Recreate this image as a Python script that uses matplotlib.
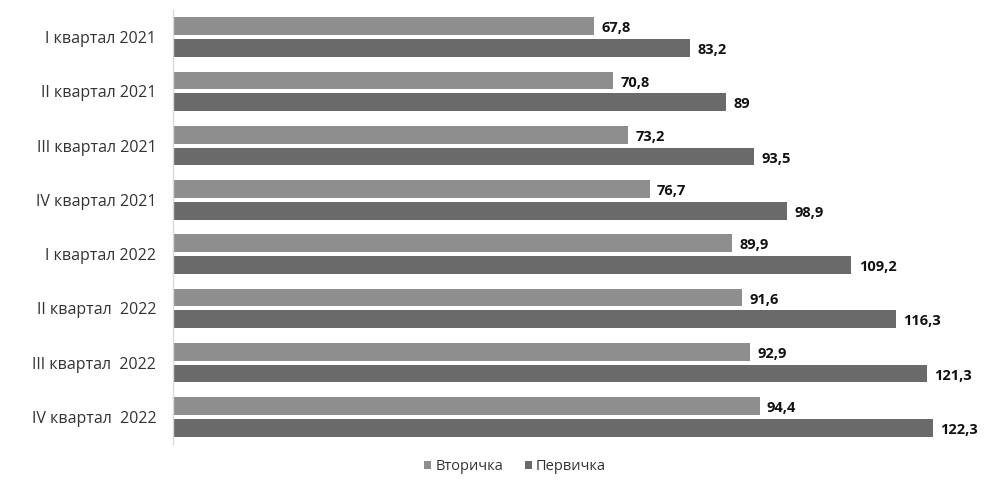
import numpy as np
import matplotlib.pyplot as plt

plt.rcParams['font.family'] = ['Open Sans', 'DejaVu Sans']

quarters = ["I квартал 2021", "II квартал 2021", "III квартал 2021", "IV квартал 2021",
            "I квартал 2022", "II квартал  2022", "III квартал  2022", "IV квартал  2022"]
secondary = [67.8, 70.8, 73.2, 76.7, 89.9, 91.6, 92.9, 94.4]
primary = [83.2, 89, 93.5, 98.9, 109.2, 116.3, 121.3, 122.3]

LIGHT = "#8e8e8e"
DARK = "#6a6a6a"


def fmt(v):
    s = f"{v:g}"
    return s.replace(".", ",")


fig = plt.figure(figsize=(9.91, 4.86), dpi=100)
ax = fig.add_axes([0.1746, 0.0864, 0.815, 0.893])

y = np.arange(len(quarters))
h = 0.33
off = 0.2
b1 = ax.barh(y - off, secondary, height=h, color=LIGHT, label="Вторичка")
b2 = ax.barh(y + off, primary, height=h, color=DARK, label="Первичка")

for bars, vals in ((b1, secondary), (b2, primary)):
    for bar, v in zip(bars, vals):
        ax.text(bar.get_width() + 1.2, bar.get_y() + bar.get_height() / 2 + 0.04, fmt(v),
                va="center", ha="left", fontsize=10.5, fontweight="bold", color="#111111")

ax.set_yticks(y)
ax.set_yticklabels(quarters, fontsize=11.5, color="#333333")
ax.set_ylim(len(quarters) - 0.5, -0.5)
ax.set_xlim(0, 130)
ax.set_xticks([])
ax.tick_params(axis="y", length=0, pad=12)
for s in ("top", "right", "bottom"):
    ax.spines[s].set_visible(False)
ax.spines["left"].set_color("#d9d9d9")
ax.spines["left"].set_linewidth(1.0)

fig.legend(handles=[b1, b2], loc="center", bbox_to_anchor=(0.52, 0.04), ncol=2,
           frameon=False, fontsize=10.5, handlelength=0.45, handleheight=0.45,
           handletextpad=0.3, columnspacing=1.5, labelcolor="#333333")

fig.savefig("out.png", dpi=100)
